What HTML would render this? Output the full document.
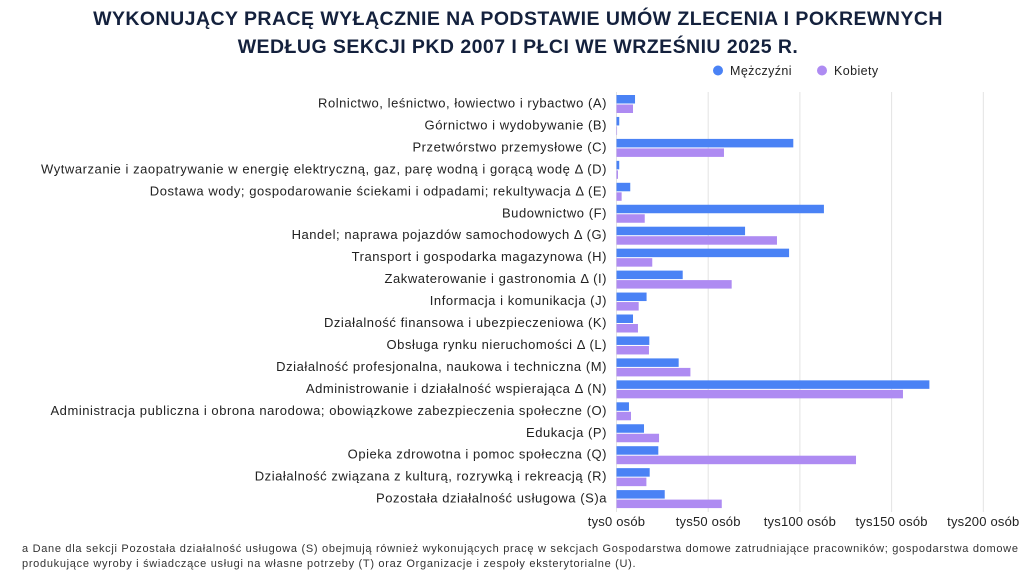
<!DOCTYPE html>
<html><head><meta charset="utf-8"><style>
body{margin:0;background:#fff;font-family:"Liberation Sans",sans-serif;}
#wrap{position:relative;width:1033px;height:578px;overflow:hidden;}
.title{position:absolute;left:0;width:1036px;text-align:center;font-weight:bold;font-size:19.5px;color:#14213d;letter-spacing:0.45px;}
.foot{position:absolute;left:22px;font-size:11px;color:#333;letter-spacing:0.7px;white-space:nowrap;}
</style></head><body>
<div id="wrap">
<div class="title" style="top:8px">WYKONUJĄCY PRACĘ WYŁĄCZNIE NA PODSTAWIE UMÓW ZLECENIA I POKREWNYCH</div>
<div class="title" style="top:36px">WEDŁUG SEKCJI PKD 2007 I PŁCI WE WRZEŚNIU 2025 R.</div>
<svg id="svg" width="1033" height="578" style="position:absolute;left:0;top:0"></svg>
<div class="foot" style="top:543px">a Dane dla sekcji Pozostała działalność usługowa (S) obejmują również wykonujących pracę w sekcjach Gospodarstwa domowe zatrudniające pracowników; gospodarstwa domowe</div>
<div class="foot" style="top:558px">produkujące wyroby i świadczące usługi na własne potrzeby (T) oraz Organizacje i zespoły eksterytorialne (U).</div>
</div>
<script>
const categories=["Rolnictwo, leśnictwo, łowiectwo i rybactwo (A)","Górnictwo i wydobywanie (B)","Przetwórstwo przemysłowe (C)","Wytwarzanie i zaopatrywanie w energię elektryczną, gaz, parę wodną i gorącą wodę Δ (D)","Dostawa wody; gospodarowanie ściekami i odpadami; rekultywacja Δ (E)","Budownictwo (F)","Handel; naprawa pojazdów samochodowych Δ (G)","Transport i gospodarka magazynowa (H)","Zakwaterowanie i gastronomia Δ (I)","Informacja i komunikacja (J)","Działalność finansowa i ubezpieczeniowa (K)","Obsługa rynku nieruchomości Δ (L)","Działalność profesjonalna, naukowa i techniczna (M)","Administrowanie i działalność wspierająca Δ (N)","Administracja publiczna i obrona narodowa; obowiązkowe zabezpieczenia społeczne (O)","Edukacja (P)","Opieka zdrowotna i pomoc społeczna (Q)","Działalność związana z kulturą, rozrywką i rekreacją (R)","Pozostała działalność usługowa (S)a"];
const men=[10.1,1.5,96.4,1.5,7.5,113.1,70.1,94.1,36.1,16.4,9.0,17.9,33.9,170.6,6.8,15.0,22.8,18.1,26.3];
const women=[9.0,0.3,58.6,0.8,2.8,15.4,87.5,19.5,62.8,12.1,11.7,17.7,40.3,156.2,7.9,23.2,130.6,16.3,57.4];
const ticks=[0,50,100,150,200];
const tickLabels=["tys0 osób","tys50 osób","tys100 osób","tys150 osób","tys200 osób"];
const NS="http://www.w3.org/2000/svg",svg=document.getElementById('svg');
const x0=616.5,pxPer=1.834,rowTop=94,rowH=21.95;
const X=v=>x0+v*pxPer;
function mk(t,a){const e=document.createElementNS(NS,t);for(const k in a)e.setAttribute(k,a[k]);svg.appendChild(e);return e;}
ticks.forEach((t,i)=>{
 const g=mk('line',{x1:X(t),x2:X(t),y1:92,y2:512,stroke:'#e3e3e3','stroke-width':1});
 
 
 const l=mk('text',{x:X(t),y:526,'text-anchor':'middle','font-size':13,'letter-spacing':0.2,fill:'#222','font-family':'Liberation Sans, sans-serif'});
 l.textContent=tickLabels[i];
 
 
});
categories.forEach((c,i)=>{
 const y=rowTop+i*rowH;
 const l=mk('text',{x:607,y:y+13.5,'text-anchor':'end','font-size':13,'letter-spacing':0.55,fill:'#222','font-family':'Liberation Sans, sans-serif'});
 l.textContent=c;
 
 
 const b1=mk('rect',{x:x0,y:y+1,width:Math.max(men[i]*pxPer,0.5),height:8.5,fill:'#4a82f5'});
 
 
 const b2=mk('rect',{x:x0,y:y+10.5,width:Math.max(women[i]*pxPer,0.5),height:8.5,fill:'#ae8bf2'});
 
 
});
[[718,'#4a82f5','Mężczyźni'],[822,'#ae8bf2','Kobiety']].forEach(([x,col,t])=>{
 const c=mk('circle',{cx:x,cy:70.5,r:5,fill:col});
 
 
 const l=mk('text',{x:x+12,y:75,'font-size':12.5,'letter-spacing':0.4,fill:'#222','font-family':'Liberation Sans, sans-serif'});
 l.textContent=t;
 
 
});
</script>
</body></html>
